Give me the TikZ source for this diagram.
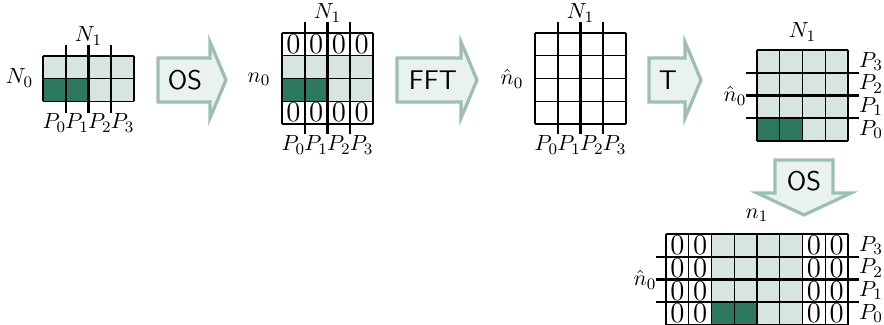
\documentclass[tikz,border=0pt]{standalone}
\usepackage{tikz}
\definecolor{darkcell}{HTML}{2E7862}
\definecolor{lightcell}{HTML}{D6E5DF}
\definecolor{arrborder}{HTML}{9CBFB2}
\definecolor{arrfill}{HTML}{E9F2EE}
\newcommand{\cs}{22.75}
% grid lines: x y ncols nrows
\newcommand{\mygrid}[4]{%
  \foreach \i in {0,...,#3} \draw[thinln] ({#1+\i*\cs},#2) -- ++(0,{#4*\cs});
  \foreach \j in {0,...,#4} \draw[thinln] (#1,{#2+\j*\cs}) -- ++({#3*\cs},0);
}
% cell fill: x y col row colour
\newcommand{\mycell}[5]{\fill[#5] ({#1+#3*\cs},{#2+#4*\cs}) rectangle ++(\cs,\cs);}
% zero: x y col row
\newcommand{\myzero}[4]{\node[zero] at ({#1+(#3+0.5)*\cs},{#2+(#4+0.5)*\cs}) {0};}
\begin{document}
\begin{tikzpicture}[x=0.5pt,y=-0.5pt,
  thinln/.style={line width=0.6pt,black},
  thickln/.style={line width=1.2pt,black},
  zero/.style={inner sep=0pt,font=\Large},
  lbl/.style={inner sep=0pt,font=\fontsize{11}{13}\selectfont},
  arrowsty/.style={draw=arrborder,fill=arrfill,line width=1.6pt,line join=miter},
  arrtext/.style={inner sep=0pt,font=\fontsize{13.5}{16}\selectfont\sffamily}]
\useasboundingbox (0,0) rectangle (884,325);

% ---------- Grid 1 (4x2) ----------
\fill[lightcell] (43,56) rectangle ++({4*\cs},{2*\cs});
\mycell{43}{56}{0}{1}{darkcell}
\mycell{43}{56}{1}{1}{darkcell}
\mygrid{43}{56}{4}{2}
\foreach \k in {1,2,3} \draw[thickln] ({43+\k*\cs},45) -- ({43+\k*\cs},113);
\node[lbl] (g1N1) at (88.5,36) {$N_1$};
\node[lbl] (g1N0) at (19.5,78) {$N_0$};
\foreach \k in {0,...,3} \node[lbl] (g1P\k) at ({43+(\k+0.5)*\cs},123) {$P_\k$};

% ---------- Arrow OS ----------
\draw[arrowsty] (158,58) -- (210,58) -- (210,42) -- (226,80) -- (210,118) -- (210,102) -- (158,102) -- cycle;
\node[arrtext] (os1) at (185,80) {OS};

% ---------- Grid 2 (4x4) ----------
\foreach \c in {0,...,3} {\mycell{282}{33}{\c}{1}{lightcell}}
\mycell{282}{33}{0}{2}{darkcell}
\mycell{282}{33}{1}{2}{darkcell}
\mycell{282}{33}{2}{2}{lightcell}
\mycell{282}{33}{3}{2}{lightcell}
\mygrid{282}{33}{4}{4}
\foreach \c in {0,...,3} {\myzero{282}{33}{\c}{0}\myzero{282}{33}{\c}{3}}
\foreach \k in {1,2,3} \draw[thickln] ({282+\k*\cs},22) -- ({282+\k*\cs},134);
\node[lbl] (g2N1) at (327.5,13) {$N_1$};
\node[lbl] (g2n0) at (259,79) {$n_0$};
\foreach \k in {0,...,3} \node[lbl] (g2P\k) at ({282+(\k+0.5)*\cs},145) {$P_\k$};

% ---------- Arrow FFT ----------
\draw[arrowsty] (397,58) -- (461,58) -- (461,42) -- (477,80) -- (461,118) -- (461,102) -- (397,102) -- cycle;
\node[arrtext] (fft) at (433,80) {FFT};

% ---------- Grid 3 (4x4 white) ----------
\mygrid{535}{33}{4}{4}
\foreach \k in {1,2,3} \draw[thickln] ({535+\k*\cs},22) -- ({535+\k*\cs},134);
\node[lbl] (g3N1) at (580.5,13) {$N_1$};
\node[lbl] (g3n0) at (512,79) {$\hat{n}_0$};
\foreach \k in {0,...,3} \node[lbl] (g3P\k) at ({535+(\k+0.5)*\cs},145) {$P_\k$};

% ---------- Arrow T ----------
\draw[arrowsty] (649,58) -- (685,58) -- (685,42) -- (701,80) -- (685,118) -- (685,102) -- (649,102) -- cycle;
\node[arrtext] (tr) at (668,80) {T};

% ---------- Grid 4 (4x4 transposed) ----------
\fill[lightcell] (757,50) rectangle ++({4*\cs},{4*\cs});
\mycell{757}{50}{0}{3}{darkcell}
\mycell{757}{50}{1}{3}{darkcell}
\mygrid{757}{50}{4}{4}
\foreach \k in {1,2,3} \draw[thickln] (746,{50+\k*\cs}) -- (859,{50+\k*\cs});
\node[lbl] (g4N1) at (802.5,32) {$N_1$};
\node[lbl] (g4n0) at (735,96) {$\hat{n}_0$};
\foreach \k/\p in {0/3,1/2,2/1,3/0} \node[lbl] (g4P\p) at (871,{50+(\k+0.5)*\cs}) {$P_\p$};

% ---------- Arrow OS (down) ----------
\draw[arrowsty] (775,160) -- (833,160) -- (833,193) -- (851,193) -- (804,215) -- (757,193) -- (775,193) -- cycle;
\node[arrtext] (os2) at (804,181) {OS};

% ---------- Grid 5 (8x4) ----------
\foreach \r in {0,...,3} {\foreach \c in {2,...,5} {\mycell{666}{234}{\c}{\r}{lightcell}}}
\mycell{666}{234}{2}{3}{darkcell}
\mycell{666}{234}{3}{3}{darkcell}
\mygrid{666}{234}{8}{4}
\foreach \r in {0,...,3} {\foreach \c in {0,1,6,7} {\myzero{666}{234}{\c}{\r}}}
\foreach \k in {1,2,3} \draw[thickln] (656,{234+\k*\cs}) -- (859,{234+\k*\cs});
\node[lbl] (g5n1) at (757,215) {$n_1$};
\node[lbl] (g5n0) at (645,280) {$\hat{n}_0$};
\foreach \k/\p in {0/3,1/2,2/1,3/0} \node[lbl] (g5P\p) at (871,{234+(\k+0.5)*\cs}) {$P_\p$};
\end{tikzpicture}
\end{document}
